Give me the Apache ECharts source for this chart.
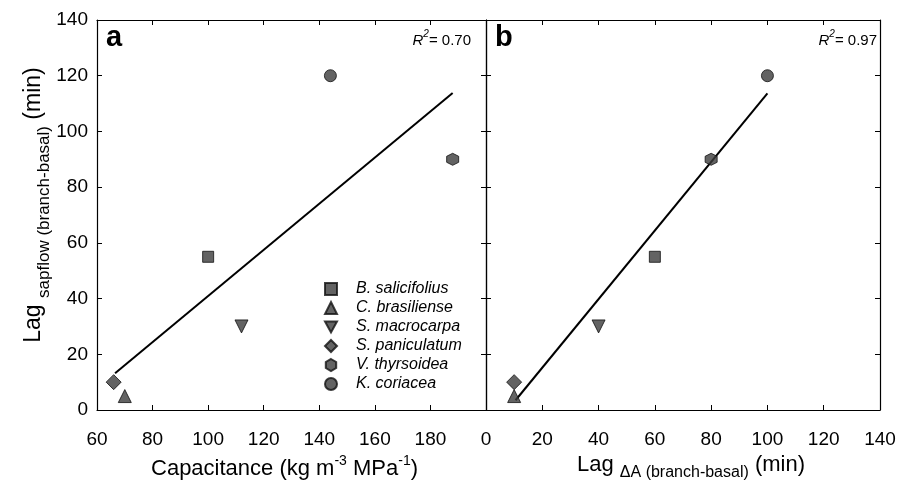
<!DOCTYPE html>
<html>
<head>
<meta charset="utf-8">
<script src="https://cdn.jsdelivr.net/npm/echarts@6/dist/echarts.min.js"></script>
<style>html,body{margin:0;padding:0;background:#fff}#c{width:899px;height:481px}</style>
</head>
<body>
<div id="c"></div>
<script>
const speciesNames = ['B. salicifolius','C. brasiliense','S. macrocarpa','S. paniculatum','V. thyrsoidea','K. coriacea'];
const capacitance = [100, 70, 112, 66, 188, 144];
const lagDeltaA = [60, 10, 40, 10, 80, 100];
const lagSapflow = [55, 5, 30, 10, 90, 120];
const fitAx = [66.5, 188];
const fitAy = [13.2, 113.8];
const fitBx = [10.5, 100];
const fitBy = [3.5, 113.7];
const r2Labels = ['0.70', '0.97'];
const panelLabels = ['a', 'b'];

const FONT = "'Liberation Sans', Arial, sans-serif";
const hexPath = 'path://M0,-10 L8.66,-5 L8.66,5 L0,10 L-8.66,5 L-8.66,-5 Z';
const downTri = 'path://M0,0 L10,0 L5,9 Z';
const symbols = [
  {symbol:'rect', size:11},
  {symbol:'triangle', size:13},
  {symbol:downTri, size:13},
  {symbol:'diamond', size:15},
  {symbol:hexPath, size:12},
  {symbol:'circle', size:12}
];
const markStyle = {color:'#3c3c3c', borderColor:'#111', borderWidth:1};

const series = [];
speciesNames.forEach((n,i)=>{
  const s = symbols[i];
  series.push({name:n, type:'scatter', xAxisIndex:0, yAxisIndex:0,
    symbol:s.symbol, symbolSize:s.size,
    itemStyle:markStyle, data:[[capacitance[i], lagSapflow[i]]], z:3});
  series.push({name:n, type:'scatter', xAxisIndex:2, yAxisIndex:2,
    symbol:s.symbol, symbolSize:s.size,
    itemStyle:markStyle, data:[[lagDeltaA[i], lagSapflow[i]]], z:3});
});
series.push({type:'line', xAxisIndex:0, yAxisIndex:0, symbol:'none', silent:true,
  lineStyle:{color:'#000', width:2}, data:fitAx.map((x,i)=>[x, fitAy[i]]), z:2});
series.push({type:'line', xAxisIndex:2, yAxisIndex:2, symbol:'none', silent:true,
  lineStyle:{color:'#000', width:2}, data:fitBx.map((x,i)=>[x, fitBy[i]]), z:2});

const tickIn = {show:true, inside:true, length:5, lineStyle:{color:'#000', width:1}};
const lineOn = {show:true, onZero:false, lineStyle:{color:'#000', width:1.2}};
const lbl = {color:'#000', fontSize:19, fontFamily:FONT};

const chart = echarts.init(document.getElementById('c'));
chart.setOption({
  backgroundColor:'#fff',
  animation:false,
  textStyle:{fontFamily:FONT},
  grid:[
    {left:97, top:20, width:389, height:390, containLabel:false, outerBoundsMode:'none'},
    {left:486, top:20, width:394, height:390, containLabel:false, outerBoundsMode:'none'}
  ],
  legend:{
    data:speciesNames, orient:'vertical', left:324, top:281, itemGap:3,
    itemWidth:12, itemHeight:12, padding:0,
    textStyle:{fontFamily:FONT, fontSize:16, fontStyle:'italic', color:'#000', padding:[0,0,0,14]}
  },
  xAxis:[
    {gridIndex:0, type:'value', min:60, max:200, interval:20, position:'bottom',
     axisLine:lineOn, axisTick:tickIn, splitLine:{show:false},
     axisLabel:Object.assign({margin:20, formatter:v=> v===200?'':String(v)}, lbl),
     name:'{t|Capacitance (kg m}{sup|-3}{t| MPa}{sup|-1}{t|)}', nameLocation:'middle', nameGap:44,
     nameTextStyle:{padding:[0,14,0,0], rich:{t:{fontSize:22, fontFamily:FONT, color:'#000', lineHeight:26, verticalAlign:'bottom'},
       sup:{fontSize:14, fontFamily:FONT, color:'#000', verticalAlign:'top', lineHeight:16}}}},
    {gridIndex:0, type:'value', min:60, max:200, interval:20, position:'top',
     axisLine:lineOn, axisTick:tickIn, axisLabel:{show:false}, splitLine:{show:false}},
    {gridIndex:1, type:'value', min:0, max:140, interval:20, position:'bottom',
     axisLine:lineOn, axisTick:tickIn, splitLine:{show:false},
     axisLabel:Object.assign({margin:20}, lbl),
     name:'{b|Lag }{s|ΔA (branch-basal)}{b| (min)}', nameLocation:'middle', nameGap:43,
     nameTextStyle:{padding:[0,0,0,16], rich:{b:{fontSize:22, fontFamily:FONT, color:'#000', verticalAlign:'top', padding:[0,0,5,0]},
       s:{fontSize:16, fontFamily:FONT, color:'#000', verticalAlign:'bottom'}}}},
    {gridIndex:1, type:'value', min:0, max:140, interval:20, position:'top',
     axisLine:lineOn, axisTick:tickIn, axisLabel:{show:false}, splitLine:{show:false}}
  ],
  yAxis:[
    {gridIndex:0, type:'value', min:0, max:140, interval:20, position:'left',
     axisLine:lineOn, axisTick:tickIn, splitLine:{show:false},
     axisLabel:Object.assign({margin:9}, lbl),
     name:'{b|Lag }{s|sapflow (branch-basal)}{b| (min)}', nameLocation:'middle', nameGap:39,
     nameTextStyle:{padding:[0,0,0,20], rich:{b:{fontSize:23, fontFamily:FONT, color:'#000', verticalAlign:'top', padding:[0,0,7,0]},
       s:{fontSize:17, fontFamily:FONT, color:'#000', verticalAlign:'bottom'}}}},
    {gridIndex:0, type:'value', min:0, max:140, interval:20, position:'right',
     axisLine:lineOn, axisTick:tickIn, axisLabel:{show:false}, splitLine:{show:false}},
    {gridIndex:1, type:'value', min:0, max:140, interval:20, position:'left',
     axisLine:lineOn, axisTick:tickIn, axisLabel:{show:false}, splitLine:{show:false}},
    {gridIndex:1, type:'value', min:0, max:140, interval:20, position:'right',
     axisLine:lineOn, axisTick:tickIn, axisLabel:{show:false}, splitLine:{show:false}}
  ],
  graphic:[
    {type:'text', left:106, top:23, style:{text:panelLabels[0], font:"bold 29px "+FONT, fill:'#000'}},
    {type:'text', left:495, top:23, style:{text:panelLabels[1], font:"bold 29px "+FONT, fill:'#000'}},
    {type:'text', right:428, top:29, style:{text:'{i|R}{sup|2}{n|= '+r2Labels[0]+'}',
      rich:{i:{fontSize:15, fontStyle:'italic', fontFamily:FONT, fill:'#000', verticalAlign:'bottom', lineHeight:19},
            sup:{fontSize:10, fontStyle:'italic', fontFamily:FONT, fill:'#000', verticalAlign:'top', lineHeight:11},
            n:{fontSize:15, fontFamily:FONT, fill:'#000', verticalAlign:'bottom', lineHeight:19}}}},
    {type:'text', right:22, top:29, style:{text:'{i|R}{sup|2}{n|= '+r2Labels[1]+'}',
      rich:{i:{fontSize:15, fontStyle:'italic', fontFamily:FONT, fill:'#000', verticalAlign:'bottom', lineHeight:19},
            sup:{fontSize:10, fontStyle:'italic', fontFamily:FONT, fill:'#000', verticalAlign:'top', lineHeight:11},
            n:{fontSize:15, fontFamily:FONT, fill:'#000', verticalAlign:'bottom', lineHeight:19}}}}
  ],
  series:series
});
</script>
</body>
</html>
